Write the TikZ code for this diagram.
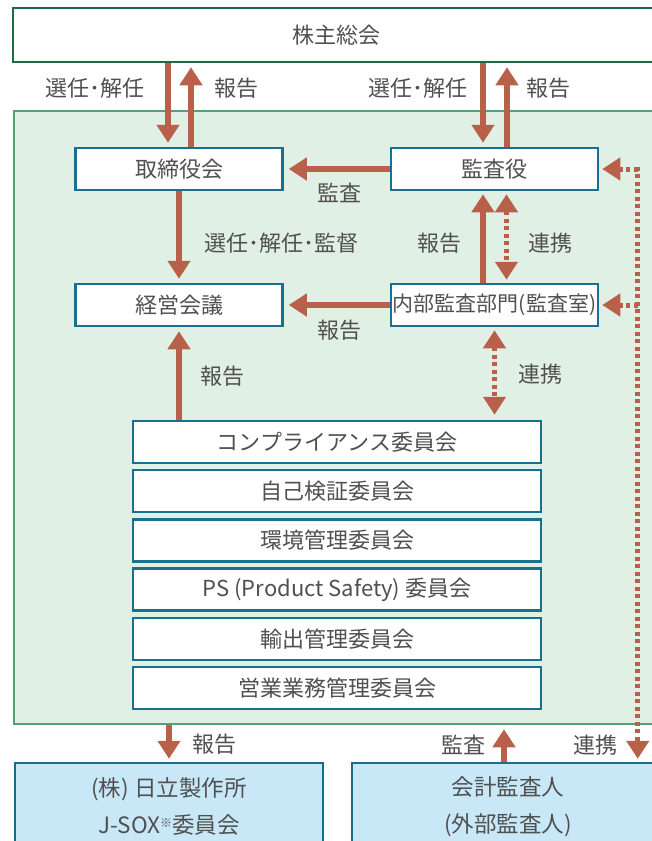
\documentclass[tikz,border=0pt]{standalone}
\usepackage{fontspec}
\newfontfamily\jp{Noto Sans CJK JP}
\usetikzlibrary{arrows.meta,calc}
\definecolor{arrc}{HTML}{B9604A}
\definecolor{txtc}{HTML}{505050}
\definecolor{boxc}{HTML}{18708F}
\definecolor{topc}{HTML}{1D6B45}
\definecolor{grpfill}{HTML}{E1F0E5}
\definecolor{grpline}{HTML}{5A9E75}
\definecolor{extfill}{HTML}{C8E8F8}
\definecolor{extline}{HTML}{1B6B8B}
\begin{document}
\begin{tikzpicture}[x=1pt,y=-1pt,
  txt/.style={font=\jp\fontsize{22}{26}\selectfont, text=txtc, inner sep=0pt},
  box/.style={txt, draw=boxc, line width=2.5pt, fill=white, minimum width=207pt, minimum height=42pt},
  cbox/.style={box, minimum width=408pt},
  topbox/.style={txt, draw=topc, line width=2.5pt, fill=white, minimum width=646pt, minimum height=54pt},
  grpbox/.style={draw=grpline, line width=2.5pt, fill=grpfill, minimum width=646pt, minimum height=613pt, inner sep=0pt},
  extbox/.style={txt, draw=extline, line width=2.5pt, fill=extfill, minimum height=87pt, align=center, font=\jp\fontsize{22.5}{37}\selectfont},
  arr/.style={draw=arrc, line width=6pt, -{Triangle[width=22pt,length=18pt]}},
  dotl/.style={draw=arrc, line width=5pt, dash pattern=on 4pt off 3.5pt},
  dotarr/.style={dotl, -{Triangle[width=22pt,length=18pt]}},
  dotarrs/.style={dotl, {Triangle[width=22pt,length=18pt]}-{Triangle[width=22pt,length=18pt]}},
]
\useasboundingbox (0,0) rectangle (652,841);
\clip (0,0) rectangle (652,841);
\fill[white] (0,0) rectangle (652,841);

% frames
\node[topbox] (agm) at (336,35) {株主総会};
\node[grpbox] (grp) at (337,417.5) {};

% boxes
\node[box] (board) at (179,169) {取締役会};
\node[box] (aud) at (494.5,169) {監査役};
\node[box] (mgmt) at (179,305) {経営会議};
\node[box, font=\jp\fontsize{21}{25}\selectfont] (iad) at (494.5,305) {内部監査部門(監査室)};

\node[cbox] (c1) at (337,442) {コンプライアンス委員会};
\node[cbox] (c2) at (337,491.2) {自己検証委員会};
\node[cbox] (c3) at (337,540.4) {環境管理委員会};
\node[cbox] (c4) at (337,589.6) {PS (Product Safety) 委員会};
\node[cbox] (c5) at (337,638.8) {輸出管理委員会};
\node[cbox] (c6) at (337,688) {営業業務管理委員会};

\node[extbox, minimum width=308pt] (jsox) at (169,806.5) {(株) 日立製作所\\J-SOX{\fontsize{12}{12}\selectfont\raisebox{6pt}{※}}委員会};
\node[extbox, minimum width=312pt] (ext) at (508,806.5) {会計監査人\\(外部監査人)};

% labels
\node[txt] (l1) at (95,88) {選任･解任};
\node[txt] (l2) at (236,88) {報告};
\node[txt] (l3) at (418,88) {選任･解任};
\node[txt] (l4) at (548,88) {報告};
\node[txt] (l5) at (339,193) {監査};
\node[txt] (l6) at (281,243) {選任･解任･監督};
\node[txt] (l7) at (439,243) {報告};
\node[txt] (l8) at (550,243) {連携};
\node[txt] (l9) at (339,330) {報告};
\node[txt] (l10) at (222,376) {報告};
\node[txt] (l11) at (540,374) {連携};
\node[txt] (l12) at (214,744) {報告};
\node[txt] (l13) at (463,745) {監査};
\node[txt] (l14) at (595,745) {連携};

% arrows top
\draw[arr] ($(board.north |- agm.south)+(-11,0)$) -- ($(board.north)+(-11,-4)$);
\draw[arr] ($(board.north)+(12,0)$) -- ($(board.north |- agm.south)+(12,4)$);
\draw[arr] ($(aud.north |- agm.south)+(-11.5,0)$) -- ($(aud.north)+(-11.5,-4)$);
\draw[arr] ($(aud.north)+(12.5,0)$) -- ($(aud.north |- agm.south)+(12.5,4)$);

% inside
\draw[arr] (aud.west) -- ($(board.east)+(5,0)$);
\draw[arr] (board.south) -- ($(mgmt.north)+(0,-4)$);
\draw[arr] (iad.west) -- ($(mgmt.east)+(5,0)$);
\draw[arr] ($(iad.north)+(-11.5,0)$) -- ($(aud.south)+(-11.5,3)$);
\draw[dotarrs] ($(aud.south)+(12,3)$) -- ($(iad.north)+(12,-3)$);
\draw[dotarrs] ($(iad.south)+(0,3)$) -- ($(iad.south |- c1.north)+(0,-5)$);
\draw[arr] (c1.north -| mgmt.south) -- ($(mgmt.south)+(0,4)$);

% right dotted
\coordinate (ca) at ($(aud.east)+(38.5,0)$);
\coordinate (ci) at ($(iad.east)+(38.5,0)$);
\draw[dotarr] (ca) -- ($(aud.east)+(3,0)$);
\draw[dotarr] (ci) -- ($(iad.east)+(3,0)$);
\draw[dotarr] ($(ca)+(0,-2.5)$) -- ($(ext.north -| ca)+(0,-3)$);

% bottom
\draw[arr] (grp.south -| jsox.north) -- ($(jsox.north)+(0,-3)$);
\draw[arr] ($(ext.north)+(-4,0)$) -- ($(ext.north |- grp.south)+(-4,4)$);
\end{tikzpicture}
\end{document}
